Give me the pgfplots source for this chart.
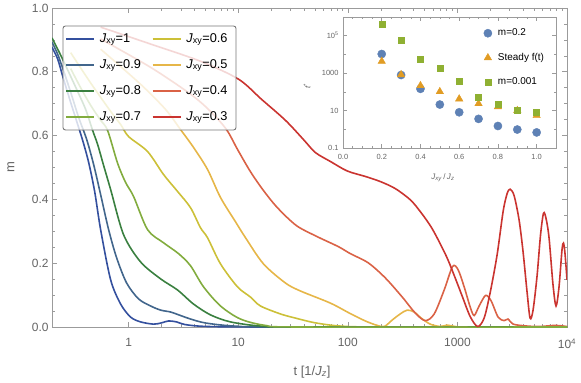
\documentclass[border=0pt]{standalone}
\usepackage{fontspec}
\setmainfont{Liberation Sans}
\usepackage{pgfplots}
\pgfplotsset{compat=1.18}
\definecolor{c1}{RGB}{52,80,158}
\definecolor{c2}{RGB}{66,102,140}
\definecolor{c3}{RGB}{58,128,64}
\definecolor{c4}{RGB}{130,172,62}
\definecolor{c5}{RGB}{204,192,56}
\definecolor{c6}{RGB}{230,182,72}
\definecolor{c7}{RGB}{218,98,70}
\definecolor{c8}{RGB}{202,52,48}
\definecolor{framegray}{RGB}{155,155,155}
\definecolor{labgray}{RGB}{100,100,100}
\definecolor{leggray}{RGB}{120,120,120}
\definecolor{mblue}{RGB}{94,129,181}
\definecolor{morange}{RGB}{225,156,36}
\definecolor{mgreen}{RGB}{143,176,50}
\begin{document}
\begin{tikzpicture}[x=1bp,y=1bp]
\useasboundingbox (0,0) rectangle (581,382);
\begin{axis}[
  at={(52bp,55bp)}, anchor=south west,
  scale only axis, width=515bp, height=319bp,
  xmode=log, xmin=0.2, xmax=10000, ymin=0, ymax=1,
  xtick={1,10,100,1000,10000},
  xticklabels={1,10,100,1000,10\textsuperscript{4}},
  ytick={0,0.2,0.4,0.6,0.8,1.0},
  yticklabels={0.0,0.2,0.4,0.6,0.8,1.0},
  minor y tick num=3,
  axis line style={framegray, line width=0.8bp},
  every tick/.style={framegray, line width=0.6bp},
  major tick length=5bp, minor tick length=3bp,
  tick label style={font=\fontsize{12}{14}\selectfont, text=labgray},
  xticklabel style={yshift=-8bp},
  xlabel={t [1/\textit{J}\textsubscript{\textit{z}}]},
  ylabel={m},
  every axis x label/.style={at={(axis description cs:0.505,-0.1505)}, anchor=base, font=\fontsize{13}{15}\selectfont, text=labgray},
  every axis y label/.style={at={(axis description cs:-0.0796,0.5)}, anchor=center, rotate=90, font=\fontsize{13}{15}\selectfont, text=labgray},
  legend columns=2,
  legend cell align=left,
  legend style={at={(0.0214,0.9436)}, anchor=north west, draw=none, fill=none, font=\fontsize{12.8}{14}\selectfont, inner xsep=2bp, inner ysep=5bp, row sep=10bp, nodes={inner sep=2bp, text height=9bp, text depth=3bp}, /tikz/every even column/.append style={column sep=9bp}, /tikz/every odd column/.append style={column sep=3bp}},
  legend image code/.code={\draw[#1] (0bp,0bp) -- (28bp,0bp);},
  every axis plot/.append style={smooth, tension=0.5},
]
\addplot[draw=c1, line width=1.6bp] coordinates {(0.2,0.877) (0.2254,0.840) (0.2504,0.786) (0.2961,0.704) (0.3358,0.645) (0.3809,0.585) (0.4320,0.516) (0.4900,0.425) (0.5556,0.305) (0.6855,0.148) (0.8456,0.072) (1.043,0.031) (1.286,0.016) (1.690,0.009) (1.998,0.013) (2.314,0.019) (2.737,0.016) (3.237,0.008) (4.529,0.0025) (8.5,0.0005) (36.9,0) (10000,0)};
\addlegendentry{\textit{J}\textsubscript{xy}=1}
\addplot[draw=c5, line width=1.6bp] coordinates {(0.2961,0.86) (0.4505,0.765) (0.6855,0.676) (0.8456,0.635) (1.0,0.597) (1.49,0.550) (2.084,0.478) (2.796,0.425) (3.673,0.374) (4.529,0.311) (5.246,0.280) (6.892,0.198) (9.844,0.126) (12.93,0.094) (15.95,0.066) (24.27,0.041) (33.24,0.028) (50.57,0.013) (85.45,0.003) (197.8,0) (10000,0)};
\addlegendentry{\textit{J}\textsubscript{xy}=0.6}
\addplot[draw=c2, line width=1.6bp] coordinates {(0.2,0.893) (0.2254,0.855) (0.2557,0.802) (0.2961,0.736) (0.3502,0.657) (0.4143,0.588) (0.4799,0.509) (0.5556,0.415) (0.6574,0.305) (0.7774,0.217) (0.959,0.138) (1.233,0.088) (1.587,0.066) (1.957,0.053) (2.414,0.047) (2.977,0.036) (3.673,0.025) (5.031,0.0126) (9.052,0.0031) (24.27,0) (10000,0)};
\addlegendentry{\textit{J}\textsubscript{xy}=0.9}
\addplot[draw=c6, line width=1.6bp] coordinates {(0.5556,0.871) (1.286,0.761) (2.174,0.682) (2.977,0.619) (3.910,0.563) (5.246,0.494) (6.892,0.406) (9.440,0.330) (11.65,0.280) (16.99,0.198) (26.95,0.138) (36.91,0.113) (69.28,0.075) (105.4,0.042) (144.3,0.019) (181.8,0.006) (215.1,0.0016) (254.4,0.022) (300.9,0.041) (348.5,0.053) (403.6,0.047) (467.5,0.028) (564.6,0.009) (696.4,0.0016) (806.4,0.006) (953.9,0.0016) (1307,0) (10000,0)};
\addlegendentry{\textit{J}\textsubscript{xy}=0.5}
\addplot[draw=c3, line width=1.6bp] coordinates {(0.2,0.906) (0.2401,0.852) (0.2840,0.799) (0.3358,0.745) (0.4057,0.682) (0.4698,0.616) (0.5219,0.572) (0.5920,0.506) (0.6855,0.431) (0.9003,0.289) (1.286,0.204) (1.957,0.151) (2.796,0.116) (3.910,0.072) (5.587,0.038) (8.501,0.016) (15.95,0.003) (36.91,0) (10000,0)};
\addlegendentry{\textit{J}\textsubscript{xy}=0.8}
\addplot[draw=c7, line width=1.6bp] coordinates {(0.5556,0.903) (1.587,0.814) (3.673,0.730) (5.587,0.676) (7.816,0.619) (9.844,0.557) (12.93,0.487) (16.99,0.428) (22.79,0.374) (33.95,0.318) (52.74,0.283) (81.92,0.252) (105.4,0.230) (153.8,0.201) (219.7,0.154) (313.7,0.094) (412.1,0.044) (508.4,0.020) (614.2,0.041) (757.3,0.116) (905,0.190) (1016,0.179) (1152,0.126) (1307,0.063) (1421,0.036) (1579,0.066) (1809,0.099) (2030,0.082) (2351,0.031) (2667,0.020) (2900,0.025) (3221,0.009) (4320,0.003) (5675,0.0016) (7778,0.005) (10000,0.0016)};
\addlegendentry{\textit{J}\textsubscript{xy}=0.4}
\addplot[draw=c4, line width=1.6bp] coordinates {(0.2961,0.81) (0.3652,0.75) (0.4505,0.695) (0.5556,0.648) (0.6435,0.616) (0.7943,0.513) (0.939,0.453) (1.111,0.409) (1.49,0.305) (2.084,0.264) (2.855,0.230) (3.673,0.192) (4.824,0.126) (6.892,0.066) (10.48,0.025) (17.71,0.005) (36.91,0) (10000,0)};
\addlegendentry{\textit{J}\textsubscript{xy}=0.7}
\addplot[draw=c8, line width=1.6bp] coordinates {(0.5556,0.94) (1.587,0.887) (4.529,0.833) (10.05,0.777) (16.29,0.714) (26.95,0.648) (39.31,0.588) (50.57,0.547) (69.28,0.519) (98.95,0.489) (144.3,0.472) (197.8,0.456) (270.9,0.434) (371.1,0.399) (457.8,0.362) (588.8,0.308) (790,0.223) (953.9,0.154) (1105,0.097) (1307,0.033) (1530,0.0016) (1753,0.028) (1988,0.107) (2302,0.226) (2612,0.362) (2840,0.418) (3024,0.432) (3290,0.412) (3653,0.336) (3972,0.236) (4320,0.110) (4603,0.028) (4900,0.053) (5330,0.160) (5734,0.289) (6108,0.357) (6439,0.340) (6855,0.280) (7455,0.132) (7943,0.066) (8456,0.126) (9004,0.242) (9292,0.263) (9590,0.230) (10000,0.148)};
\addlegendentry{\textit{J}\textsubscript{xy}=0.3}
\fill[white, fill opacity=0.8, draw=leggray, draw opacity=1, line width=0.9bp, rounded corners=2.5bp] (rel axis cs:0.02136,0.9436) rectangle (rel axis cs:0.3573,0.6176);
\end{axis}
\begin{axis}[
  at={(343bp,234bp)}, anchor=south west,
  scale only axis, width=213bp, height=131bp,
  xmin=0, xmax=1.1, ymode=log, ymin=0.1, ymax=1000000,
  xtick={0,0.2,0.4,0.6,0.8,1.0},
  xticklabels={0.0,0.2,0.4,0.6,0.8,1.0},
  minor x tick num=3,
  ytick={0.1,10,1000,100000},
  yticklabels={0.1,10,1000,10\textsuperscript{5}},
  minor ytick={1,100,10000,1000000},
  axis line style={framegray, line width=0.7bp},
  every tick/.style={framegray, line width=0.5bp},
  major tick length=4bp, minor tick length=2.5bp,
  tick label style={font=\fontsize{7.5}{9}\selectfont, text=labgray},
  xticklabel style={yshift=-3bp},
  yticklabel style={xshift=-1bp},
  xlabel={\textit{J}\textsubscript{\textit{xy}}\,/\,\textit{J}\textsubscript{\textit{z}}},
  ylabel={\textit{t}\textsuperscript{*}},
  every axis x label/.style={at={(axis description cs:0.469,-0.244)}, anchor=base, font=\fontsize{8}{10}\selectfont, text=labgray},
  every axis y label/.style={at={(axis description cs:-0.169,0.473)}, anchor=center, rotate=90, font=\fontsize{8}{10}\selectfont, text=labgray},
  legend cell align=left,
  legend style={at={(0.66,0.933)}, anchor=north west, draw=none, fill=none, inner sep=0bp, font=\fontsize{10}{12}\selectfont, row sep=10bp, nodes={inner sep=2bp, text height=8bp, text depth=2.5bp}, /tikz/every odd column/.append style={column sep=4bp}},
]
\addplot[only marks, mark=*, mark size=4.1bp, mblue, mark options={draw=mblue, fill=mblue}] coordinates {(0.2,10500) (0.3,795) (0.4,145) (0.5,21) (0.6,8.1) (0.7,3.6) (0.8,1.5) (0.9,0.97) (1.0,0.68)};
\addlegendentry{m=0.2}
\addplot[only marks, mark=triangle*, mark size=4.3bp, morange, mark options={draw=morange, fill=morange}] coordinates {(0.2,4300) (0.3,830) (0.4,215) (0.5,103) (0.6,42) (0.7,23.5) (0.8,16) (0.9,10) (1.0,5.4)};
\addlegendentry{Steady f(t)}
\addplot[only marks, mark=square*, mark size=3bp, mgreen, mark options={draw=mgreen, fill=mgreen}] coordinates {(0.2,420000) (0.3,61000) (0.4,5900) (0.5,1900) (0.6,365) (0.7,49) (0.8,22) (0.9,10) (1.0,7.8)};
\addlegendentry{m=0.001}
\end{axis}
\end{tikzpicture}
\end{document}
